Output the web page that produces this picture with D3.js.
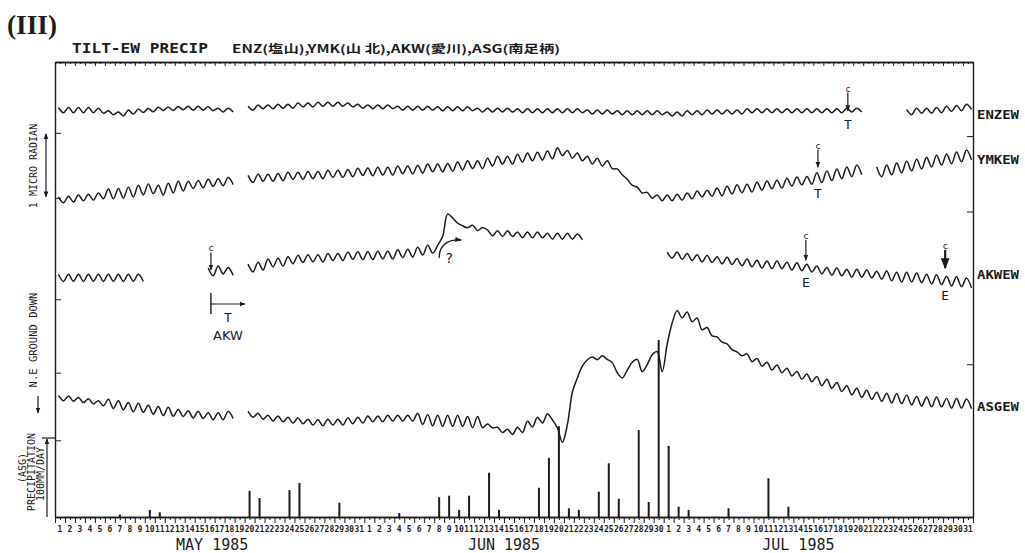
<!DOCTYPE html>
<meta charset="utf-8">
<script src="https://d3js.org/d3.v7.min.js"></script>
<style>
  body { margin: 0; background: #fff; }
  text { fill: #1c1c1c; }
  svg { opacity: 0.999; }
</style>
<div id="chart"></div>
<script>
// ---------------- data ----------------
// one value per day, May 1 .. Jul 31 1985 (92 days)
// tilt level and daily tidal swing in micro radian, null = no record
var enzLevel = [
  6.26,6.26,6.26,6.26,6.25,6.22,6.20,6.23,6.25,6.26,6.28,6.28,6.29,6.29,6.29,6.28,6.26,6.26,null,
  6.29,6.31,6.31,6.32,6.32,6.34,6.34,6.35,6.35,6.35,6.34,6.32,
  6.31,6.31,6.31,6.29,6.29,6.29,6.29,6.28,6.28,6.28,
  6.28,6.26,6.26,6.26,6.26,6.25,6.25,6.25,6.25,6.25,
  6.25,6.25,6.23,6.23,6.23,6.22,6.22,6.22,6.22,6.22,6.20,6.20,
  6.22,6.22,6.23,6.23,6.23,6.23,6.25,6.25,6.25,6.25,6.25,6.25,6.25,
  6.25,6.25,6.25,6.26,6.26,null,null,null,null,
  6.23,6.25,6.25,6.26,6.28,6.29,6.31]
var enzSwing = [
  .08,.08,.08,.08,.08,.06,.06,.06,.05,.05,.05,.05,.05,.06,.06,.06,.06,.06,0,
  .06,.06,.06,.06,.06,.06,.06,.06,.06,.06,.06,.06,
  .06,.06,.06,.06,.06,.06,.06,.06,.06,.06,
  .06,.06,.06,.06,.06,.06,.06,.06,.06,.06,
  .06,.06,.06,.06,.06,.06,.06,.06,.06,.06,.06,.06,
  .06,.06,.06,.06,.06,.06,.06,.06,.06,.06,.06,.06,.06,
  .06,.06,.06,.06,.06,0,0,0,0,
  .08,.08,.08,.08,.08,.08,.08]

var ymkLevel = [
  4.88,4.89,4.91,4.92,4.94,4.97,4.98,5.00,5.03,5.05,5.03,5.06,5.09,5.11,5.12,5.14,5.15,5.17,null,
  5.20,5.22,5.22,5.23,5.25,5.25,5.26,5.26,5.28,5.28,5.29,5.31,
  5.31,5.32,5.32,5.34,5.34,5.35,5.37,5.37,5.38,5.40,5.42,5.42,
  5.46,5.49,5.49,5.52,5.54,5.55,5.57,5.62,5.58,
  5.54,5.49,5.46,5.42,
  5.31,5.15,5.03,4.95,4.91,
  4.91,4.92,4.94,4.97,4.98,
  5.00,5.03,5.05,5.06,5.09,5.11,5.12,5.15,5.17,5.18,
  5.22,5.25,5.28,5.31,5.34,null,
  5.31,5.34,5.37,5.40,5.43,5.46,5.49,5.51,5.54,5.57]
var ymkSwing = [
  .09,.09,.09,.09,.09,.15,.15,.15,.15,.15,.15,.15,.15,.11,.11,.11,.11,.11,0,
  .11,.11,.11,.11,.11,.11,.11,.11,.11,.11,.11,.11,
  .12,.12,.12,.12,.12,.12,.12,.12,.12,.12,.12,.12,
  .12,.12,.12,.12,.12,.12,.12,.12,.12,
  .12,.12,.12,.12,
  .09,.09,.09,.09,.09,
  .09,.09,.09,.09,.09,
  .12,.12,.12,.12,.12,.12,.12,.12,.12,.12,
  .15,.15,.15,.15,.15,0,
  .15,.15,.15,.15,.15,.15,.15,.15,.15,.15]

var akwLevel = [
  3.68,3.68,3.68,3.68,3.68,3.68,3.68,3.68,3.68,
  null,null,null,null,null,null,
  3.77,3.80,3.78,null,
  3.83,3.86,3.91,3.92,
  3.95,3.97,3.98,3.98,4.00,4.00,4.02,
  4.02,4.02,4.03,4.03,4.05,4.06,4.09,4.12,
  4.25,4.63,4.50,4.47,4.43,
  4.37,4.36,4.36,4.34,4.34,4.34,4.32,4.32,4.32,4.31,
  null,null,null,null,null,null,null,null,
  4.03,
  4.02,4.00,3.98,3.97,3.95,3.94,3.92,
  3.91,3.89,3.88,3.88,3.86,3.85,3.83,
  3.80,3.78,3.77,3.75,3.75,3.74,3.72,
  3.71,3.69,3.69,3.68,3.66,3.65,3.63,3.62,3.60]
var akwSwing = [
  .11,.11,.11,.11,.11,.11,.11,.11,.11,
  0,0,0,0,0,0,
  .12,.12,.12,0,
  .12,.12,.12,.12,
  .11,.11,.11,.11,.11,.11,.11,
  .12,.12,.12,.12,.12,.12,.12,.12,
  -.14,.06,.04,-.04,-.05,
  .09,.09,.09,.09,.09,.09,.09,.09,.09,.09,
  0,0,0,0,0,0,0,0,
  .09,
  .11,.11,.11,.11,.11,.11,.11,
  .12,.12,.12,.12,.12,.12,.12,
  .12,.12,.12,.12,.12,.12,.12,
  .15,.15,.15,.15,.15,.15,.15,.15,.15]

var asgLevel = [
  1.83,1.82,1.80,1.78,1.75,1.74,1.72,1.69,1.68,1.65,1.63,1.62,1.60,1.58,1.57,1.55,1.55,1.57,null,
  1.58,1.55,1.52,1.51,1.49,1.48,1.46,1.45,1.46,1.46,1.48,1.49,
  1.51,1.51,1.52,1.52,1.52,1.51,1.49,1.48,1.48,1.48,1.46,1.46,
  1.40,1.34,1.31,1.34,1.43,1.49,1.54,
  1.26,1.67,2.23,2.44,2.45,2.40,2.18,2.32,2.33,2.42,2.39,2.82,3.12,3.08,2.97,2.85,2.73,2.62,2.51,
  2.45,2.38,2.32,2.28,2.23,2.18,2.14,
  2.09,2.05,2.00,1.95,1.91,1.88,1.85,
  1.83,1.82,1.80,1.78,1.77,1.77,1.75,1.75,1.74]
var asgSwing = [
  .08,.08,.08,.08,.08,.14,.14,.14,.14,.14,.14,.14,.11,.11,.11,.11,.11,.11,0,
  .09,.09,.09,.09,.09,.09,.09,.09,.09,.09,.09,.09,
  .09,.09,.09,.09,.09,.17,.17,.17,.17,.17,.17,.17,
  .06,.08,.08,.08,.09,.09,.09,
  .22,-.50,-.18,-.04,-.06,.05,.08,-.12,.19,-.15,.31,-.33,.11,.15,.18,.13,.08,.09,.06,
  .12,.12,.12,.12,.12,.12,.12,
  .14,.14,.14,.14,.14,.14,.14,
  .15,.15,.15,.15,.15,.15,.15,.15,.15]

// ASG daily precipitation, mm/day
var precip = [
  0,0,0,0,0,0,3,0,0,9,
  6,0,0,0,0,0,0,0,0,33,
  24,0,0,34,43,0,0,0,18,0,
  0,0,0,0,5,0,0,0,25,27,
  9,27,0,56,9,0,0,0,37,75,
  115,11,9,0,32,68,23,0,110,19,
  224,90,13,9,0,0,0,11,0,0,
  0,49,0,13,0,0,0,0,0,0,
  0,0,0,0,0,0,0,0,0,0,
  0,0]

var traceNames = ["ENZEW", "YMKEW", "AKWEW", "ASGEW"]
var traceRef = [6.18, 5.49, 3.72, 1.68]      // level where each name sits
var leftTicks = [5.91, 4.91, 3.35, 2.22, 1.18]
var rightTicks = [5.86, 4.70, 2.35]
var monthNames = ["MAY 1985", "JUN 1985", "JUL 1985"]
var monthMid = [new Date(1985,4,16,18), new Date(1985,5,15,0), new Date(1985,6,14,12)]

// ---------------- layout ----------------
var W = 1025, H = 553
var pL = 55, pR = 973, pT = 62, pB = 517
var DAY = 864e5
var start = new Date(1985,4,1), end = new Date(1985,7,1)
var days = d3.timeDays(start, end)

var svg = d3.select("#chart").append("svg")
    .attr("width", W).attr("height", H)
    .style("font-family", "'DejaVu Sans Mono', monospace")

var x = d3.scaleTime().domain([start, end]).range([pL, pR])
var y = d3.scaleLinear().domain([0, 7]).range([pB, pT])        // micro radian
var yP = d3.scaleLinear().domain([0, 100]).range([pB, 438])     // mm/day

var ink = "#1c1c1c"
var defs = svg.append("defs")
defs.append("marker").attr("id", "ah").attr("viewBox", "0 0 10 10")
    .attr("refX", 9).attr("refY", 5).attr("markerWidth", 5).attr("markerHeight", 5)
    .attr("orient", "auto-start-reverse")
  .append("path").attr("d", "M0,1 L10,5 L0,9 z").attr("fill", ink)

// ---------------- titles ----------------
svg.append("text").attr("x", 7).attr("y", 34)
    .style("font-family", "'Liberation Serif', serif").style("font-weight", "bold")
    .style("font-size", "28px").attr("fill", ink)
    .attr("textLength", 50).attr("lengthAdjust", "spacingAndGlyphs")
    .text("(III)")
svg.append("text").attr("x", 72).attr("y", 53)
    .style("font-size", "14px").style("font-weight", "bold").attr("fill", ink)
    .attr("textLength", 136).attr("lengthAdjust", "spacingAndGlyphs")
    .text("TILT-EW PRECIP")
svg.append("text").attr("x", 232).attr("y", 53)
    .style("font-family", "'Noto Sans CJK JP', 'DejaVu Sans', sans-serif")
    .style("font-size", "11px").style("font-weight", "bold").attr("fill", ink)
    .attr("textLength", 328).attr("lengthAdjust", "spacingAndGlyphs")
    .text("ENZ(塩山),YMK(山 北),AKW(愛川),ASG(南足柄)")

// ---------------- frame and axes ----------------
function dayAxis(g, gen) {
  g.call(gen)
  g.selectAll("path, line").attr("stroke", ink)
}
var halfDays = days.map(function(d){ return new Date(+d + DAY/2) })
// top edge, ticks pointing in
svg.append("g").attr("transform", "translate(0," + pT + ")")
    .call(dayAxis, d3.axisBottom(x).ticks(d3.timeDay.every(1)).tickSize(4).tickSizeOuter(0).tickFormat(""))
svg.append("g").attr("transform", "translate(0," + pT + ")")
    .call(dayAxis, d3.axisBottom(x).tickValues(halfDays).tickSize(2).tickSizeOuter(0).tickFormat(""))
// bottom edge, ticks pointing out
svg.append("g").attr("transform", "translate(0," + pB + ")")
    .call(dayAxis, d3.axisBottom(x).ticks(d3.timeDay.every(1)).tickSize(6).tickSizeOuter(0).tickFormat(""))
svg.append("g").attr("transform", "translate(0," + pB + ")")
    .call(dayAxis, d3.axisBottom(x).tickValues(halfDays).tickSize(3).tickSizeOuter(0).tickFormat(""))

// side edges
svg.append("g").attr("transform", "translate(" + pL + ",0)")
    .call(dayAxis, d3.axisRight(y).tickValues(leftTicks).tickSize(6).tickSizeOuter(0).tickFormat(""))
svg.append("g").attr("transform", "translate(" + pR + ",0)")
    .call(dayAxis, d3.axisLeft(y).tickValues(rightTicks).tickSize(6).tickSizeOuter(0).tickFormat(""))
svg.selectAll(".domain").attr("stroke-width", 1.4)

// day numbers
svg.append("g").selectAll("text").data(days).join("text")
    .attr("x", function(d){ return x(new Date(+d + DAY/2)) })
    .attr("y", 532)
    .attr("text-anchor", "middle").attr("fill", ink)
    .style("font-size", "8px").style("font-weight", "bold")
    .attr("textLength", function(d){ return d.getDate() > 9 ? 9.6 : null })
    .attr("lengthAdjust", "spacingAndGlyphs")
    .text(function(d){ return d.getDate() })

svg.append("g").selectAll("text").data(monthNames).join("text")
    .attr("x", function(d, i){ return x(monthMid[i]) })
    .attr("y", 550)
    .attr("text-anchor", "middle").attr("fill", ink)
    .style("font-size", "15px")
    .text(function(d){ return d })

// ---------------- precipitation bars ----------------
svg.append("g").selectAll("rect").data(precip.map(function(v, i){ return {d: days[i], v: v} })
      .filter(function(p){ return p.v > 0 }))
  .join("rect")
    .attr("x", function(p){ return x(new Date(+p.d + DAY/2)) - 1 })
    .attr("width", 2)
    .attr("y", function(p){ return yP(p.v) })
    .attr("height", function(p){ return yP(0) - yP(p.v) })
    .attr("fill", ink)

// ---------------- tilt traces ----------------
function readings(level, swing) {
  var pts = []
  days.forEach(function(d, i) {
    var l = level[i], s = swing[i]
    pts.push({t: new Date(+d + 0.35 * DAY), v: l == null ? null : l + s / 2})
    pts.push({t: new Date(+d + 0.85 * DAY), v: l == null ? null : l - s / 2})
  })
  return pts
}
var traces = [
  readings(enzLevel, enzSwing),
  readings(ymkLevel, ymkSwing),
  readings(akwLevel, akwSwing),
  readings(asgLevel, asgSwing)
]
var line = d3.line()
    .defined(function(d){ return d.v != null })
    .x(function(d){ return x(d.t) })
    .y(function(d){ return y(d.v) })
    .curve(d3.curveCatmullRom.alpha(0.5))

svg.append("g").selectAll("path").data(traces).join("path")
    .attr("d", line)
    .attr("fill", "none")
    .attr("stroke", ink)
    .attr("stroke-width", 1.5)
    .attr("stroke-linejoin", "round")

// trace names on the right
svg.append("g").selectAll("text").data(traceNames).join("text")
    .attr("x", pR + 4)
    .attr("y", function(d, i){ return y(traceRef[i]) })
    .attr("dominant-baseline", "middle").attr("fill", ink)
    .style("font-size", "12px").style("font-weight", "bold")
    .attr("textLength", 42).attr("lengthAdjust", "spacingAndGlyphs")
    .text(function(d){ return d })

// ---------------- left side labels ----------------
function vlabel(cx, cy, txt, size) {
  svg.append("text")
      .attr("transform", "translate(" + cx + "," + cy + ") rotate(-90)")
      .attr("text-anchor", "middle").attr("dominant-baseline", "central")
      .attr("fill", ink)
      .style("font-size", size + "px")
      .text(txt)
}
vlabel(33, 166, "1 MICRO RADIAN", 10)
vlabel(33, 340, "N.E GROUND DOWN", 10.5)
vlabel(22, 468, "(ASG)", 10)
vlabel(31, 472, "PRECIPITATION", 10)
vlabel(40, 474, "100MM/DAY", 10)

// 1 micro radian bracket
svg.append("line").attr("x1", 46).attr("x2", 46)
    .attr("y1", y(leftTicks[0]) + 1).attr("y2", y(leftTicks[1]) - 1)
    .attr("stroke", ink).attr("stroke-width", 1.2)
    .attr("marker-start", "url(#ah)").attr("marker-end", "url(#ah)")
// ground down arrow
svg.append("line").attr("x1", 38).attr("x2", 38).attr("y1", 396).attr("y2", 413)
    .attr("stroke", ink).attr("stroke-width", 1.2).attr("marker-end", "url(#ah)")
// 100 mm/day bracket
svg.append("line").attr("x1", 47).attr("x2", 47)
    .attr("y1", yP(0)).attr("y2", yP(100) + 1)
    .attr("stroke", ink).attr("stroke-width", 1.2).attr("marker-end", "url(#ah)")
svg.append("line").attr("x1", 42).attr("x2", 55).attr("y1", yP(100)).attr("y2", yP(100))
    .attr("stroke", ink).attr("stroke-width", 1.2)

// ---------------- annotations: calibration marks ----------------
var marks = [
  {t: new Date(1985,6,19,11), v0: 6.53, v1: 6.25, tag: "T", tv: 6.03, w: 1.2},
  {t: new Date(1985,6,16,11), v0: 5.65, v1: 5.38, tag: "T", tv: 4.96, w: 1.2},
  {t: new Date(1985,6,15,6),  v0: 4.26, v1: 3.95, tag: "E", tv: 3.60, w: 1.2},
  {t: new Date(1985,6,29,5),  v0: 4.11, v1: 3.83, tag: "E", tv: 3.40, w: 2.2},
  {t: new Date(1985,4,16,15), v0: 4.07, v1: 3.80, tag: "",  tv: 0,    w: 1.2}
]
var mg = svg.append("g")
marks.forEach(function(m) {
  var mx = x(m.t)
  mg.append("text").attr("x", mx).attr("y", y(m.v0) - 1).attr("text-anchor", "middle")
      .attr("fill", ink).style("font-size", "9px").text("c")
  mg.append("line").attr("x1", mx).attr("x2", mx).attr("y1", y(m.v0)).attr("y2", y(m.v1))
      .attr("stroke", ink).attr("stroke-width", m.w).attr("marker-end", "url(#ah)")
  if (m.tag) mg.append("text").attr("x", mx).attr("y", y(m.tv)).attr("text-anchor", "middle")
      .attr("dominant-baseline", "middle").attr("fill", ink)
      .style("font-size", "13px").text(m.tag)
})

// AKW tilt-meter start marker
var xs = x(new Date(1985,4,16,15))
mg.append("line").attr("x1", xs).attr("x2", xs).attr("y1", 293).attr("y2", 314)
    .attr("stroke", ink).attr("stroke-width", 1.4)
mg.append("line").attr("x1", xs).attr("x2", xs + 34).attr("y1", 304).attr("y2", 304)
    .attr("stroke", ink).attr("stroke-width", 1.2).attr("marker-end", "url(#ah)")
mg.append("text").attr("x", xs + 17).attr("y", 322).attr("text-anchor", "middle")
    .attr("fill", ink).style("font-size", "13px").text("T")
mg.append("text").attr("x", xs + 17).attr("y", 340).attr("text-anchor", "middle")
    .attr("fill", ink)
    .style("font-family", "'DejaVu Sans', sans-serif").style("font-size", "13px").text("AKW")

// question mark near the June AKW step
var xq = x(new Date(1985,5,9,12))
mg.append("path")
    .attr("d", "M" + (xq - 10) + ",258 C" + (xq - 10) + ",244 " + (xq) + ",239 " + (xq + 12) + ",240")
    .attr("fill", "none").attr("stroke", ink).attr("stroke-width", 1.3).attr("marker-end", "url(#ah)")
mg.append("text").attr("x", xq).attr("y", 263).attr("text-anchor", "middle")
    .attr("fill", ink)
    .style("font-family", "'DejaVu Sans', sans-serif").style("font-size", "14px").text("?")
</script>
